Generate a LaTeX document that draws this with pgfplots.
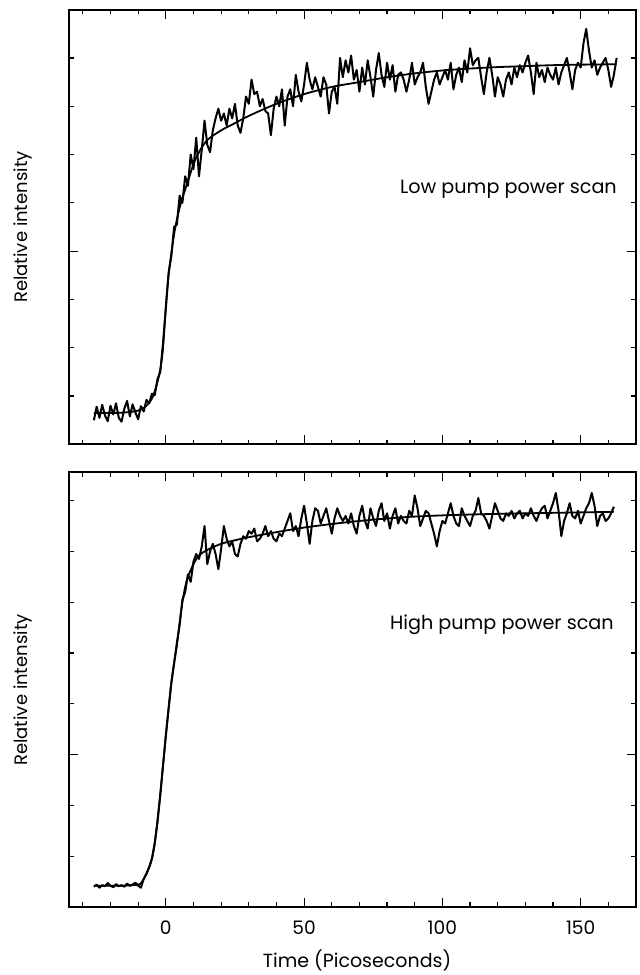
\documentclass[border=0pt]{standalone}
\usepackage{fontspec}
\setmainfont{Poppins}
\usepackage{pgfplots}
\pgfplotsset{compat=1.18}
\begin{document}
\begin{tikzpicture}
\path[use as bounding box] (-34.5pt,-34pt) rectangle (285.5pt,453.5pt);
\pgfplotsset{
 panel/.style={
  scale only axis, width=283.5pt, height=217.4pt,
  xmin=-35, xmax=170,
  xtick={0,50,100,150},
  minor xtick={-30,-20,-10,10,20,30,40,60,70,80,90,110,120,130,140,160},
  tick align=inside, tick pos=both,
  major tick length=4.5pt, minor tick length=2.3pt,
  every tick/.style={black, line width=0.6pt},
  axis line style={line width=1pt},
  yticklabels={},
  /pgf/number format/assume math mode=true,
  tick label style={font=\fontsize{9.3}{10}\selectfont},
  xticklabel style={yshift=-3.5pt},
 },
 data/.style={black, line width=1pt, line join=round},
 fit/.style={black, line width=0.9pt, smooth},
}
% ---------- top panel ----------
\begin{axis}[panel, at={(0,231.3pt)}, anchor=south west,
  ymin=0, ymax=9, ytick={4}, minor ytick={1,2,3,5,6,7,8}, xticklabels={}]
\addplot[data] coordinates {
(-26,0.50) (-25,0.78) (-24,0.55) (-23,0.82) (-22,0.60) (-21,0.48) (-20,0.80) (-19,0.62) (-18,0.85) (-17,0.55)
(-16,0.47) (-15,0.74) (-14,0.90) (-13,0.58) (-12,0.83) (-11,0.66) (-10,0.52) (-9,0.79) (-8,0.68) (-7,0.92)
(-6,0.85) (-5,1.05) (-4,1.02) (-3,1.35) (-2,1.50) (-1,2.10) (0,2.80) (1,3.55) (2,3.90) (3,4.50)
(4,4.55) (5,5.15) (6,5.00) (7,5.55) (8,5.35) (9,6.00) (10,5.70) (11,6.35) (12,5.55) (13,6.10)
(14,6.70) (15,6.20) (16,6.05) (17,6.50) (18,6.75) (19,6.95) (20,6.70) (21,6.85) (22,6.60) (23,6.95)
(24,6.75) (25,7.05) (26,6.60) (27,6.45) (28,6.75) (29,7.20) (30,7.05) (31,7.55) (32,7.25) (33,7.30)
(34,7.00) (35,7.15) (36,6.90) (37,6.85) (38,6.40) (39,6.95) (40,7.20) (41,7.00) (42,7.35) (43,6.60)
(44,7.20) (45,7.35) (46,7.00) (47,7.65) (48,7.30) (49,7.10) (50,7.45) (51,7.90) (52,7.55) (53,7.35)
(54,7.60) (55,7.40) (56,7.20) (57,7.60) (58,7.45) (59,6.85) (60,7.30) (61,7.40) (62,7.05) (63,8.00)
(64,7.60) (65,7.95) (66,7.70) (67,8.05) (68,7.55) (69,7.75) (70,7.30) (71,7.80) (72,7.45) (73,7.95)
(74,7.60) (75,7.20) (76,7.75) (77,8.10) (78,7.65) (79,7.40) (80,7.90) (81,7.55) (82,7.85) (83,7.30)
(84,7.65) (85,7.70) (86,7.55) (87,7.30) (88,7.55) (89,7.90) (90,7.45) (91,7.60) (92,7.70) (93,7.90)
(94,7.40) (95,7.05) (96,7.30) (97,7.55) (98,7.70) (99,7.45) (100,7.60) (101,7.75) (102,7.55) (103,7.90)
(104,7.35) (105,7.65) (106,7.80) (107,7.50) (108,7.95) (109,7.70) (110,8.20) (111,7.85) (112,7.95) (113,8.00)
(114,7.60) (115,7.25) (116,7.70) (117,8.00) (118,7.65) (119,7.20) (120,7.60) (121,7.45) (122,7.20) (123,7.55)
(124,7.70) (125,7.45) (126,7.80) (127,7.60) (128,7.85) (129,7.70) (130,7.90) (131,8.05) (132,7.70) (133,7.25)
(134,7.90) (135,7.60) (136,7.75) (137,7.50) (138,7.80) (139,7.65) (140,7.55) (141,7.80) (142,7.45) (143,7.70)
(144,7.85) (145,8.00) (146,7.70) (147,7.35) (148,7.75) (149,7.90) (150,7.80) (151,8.30) (152,8.60) (153,8.15)
(154,7.80) (155,7.95) (156,7.65) (157,7.80) (158,7.90) (159,8.00) (160,7.75) (161,7.40) (162,7.65) (163,8.00)
};
\addplot[fit] coordinates {
(-26,0.65) (-20,0.65) (-15,0.66) (-10,0.70) (-7,0.80) (-5,0.95) (-4,1.10) (-3,1.30) (-2,1.55) (-1,2.00)
(0,2.85) (1,3.50) (2,3.95) (3,4.35) (4,4.65) (5,4.90) (6,5.10) (8,5.45) (10,5.80) (12,6.05)
(15,6.30) (20,6.50) (25,6.65) (30,6.80) (40,7.05) (50,7.25) (60,7.40) (70,7.50) (80,7.60) (90,7.68)
(100,7.74) (110,7.78) (120,7.81) (130,7.83) (140,7.85) (150,7.86) (163,7.87)
};
\node[anchor=east, font=\fontsize{9.6}{12}\selectfont] at (axis cs:165.6,5.27) {Low pump power scan};
\end{axis}
% ---------- bottom panel ----------
\begin{axis}[panel, at={(0,0)}, anchor=south west,
  ymin=0, ymax=8.56, ytick={3}, minor ytick={1,2,4,5,6,7,8}]
\addplot[data] coordinates {
(-26,0.40) (-25,0.44) (-24,0.38) (-23,0.43) (-22,0.41) (-21,0.47) (-20,0.42) (-19,0.39) (-18,0.45) (-17,0.41)
(-16,0.43) (-15,0.40) (-14,0.46) (-13,0.42) (-12,0.44) (-11,0.48) (-10,0.42) (-9,0.38) (-8,0.55) (-7,0.66)
(-6,0.79) (-5,0.96) (-4,1.26) (-3,1.68) (-2,2.22) (-1,2.78) (0,3.38) (1,3.90) (2,4.42) (3,4.80)
(4,5.20) (5,5.55) (6,6.05) (7,6.20) (8,6.55) (9,6.40) (10,6.80) (11,6.95) (12,6.85) (13,7.10)
(14,7.50) (15,6.75) (16,7.00) (17,7.15) (18,6.95) (19,6.65) (20,7.05) (21,7.50) (22,7.25) (23,7.10)
(24,7.20) (25,6.95) (26,6.90) (27,7.15) (28,7.30) (29,7.25) (30,7.40) (31,7.35) (32,7.45) (33,7.20)
(34,7.25) (35,7.35) (36,7.50) (37,7.30) (38,7.40) (39,7.25) (40,7.20) (41,7.35) (42,7.30) (43,7.45)
(44,7.60) (45,7.75) (46,7.40) (47,7.50) (48,7.30) (49,7.65) (50,7.90) (51,7.55) (52,7.15) (53,7.60)
(54,7.85) (55,7.80) (56,7.55) (57,7.70) (58,7.85) (59,7.60) (60,7.35) (61,7.65) (62,7.85) (63,7.70)
(64,7.60) (65,7.70) (66,7.55) (67,7.75) (68,7.50) (69,7.35) (70,7.70) (71,7.90) (72,7.60) (73,7.45)
(74,7.85) (75,7.65) (76,7.50) (77,7.80) (78,7.95) (79,7.60) (80,7.75) (81,7.45) (82,7.70) (83,7.85)
(84,7.55) (85,7.70) (86,7.60) (87,7.55) (88,7.80) (89,7.70) (90,8.10) (91,7.85) (92,7.50) (93,7.65)
(94,7.80) (95,7.75) (96,7.55) (97,7.35) (98,7.10) (99,7.40) (100,7.60) (101,7.55) (102,7.75) (103,7.95)
(104,7.70) (105,7.55) (106,7.50) (107,7.85) (108,7.70) (109,7.60) (110,7.50) (111,7.70) (112,7.80) (113,8.05)
(114,7.75) (115,7.70) (116,7.60) (117,7.45) (118,7.70) (119,7.95) (120,7.80) (121,7.65) (122,7.60) (123,7.75)
(124,7.70) (125,7.80) (126,7.65) (127,7.75) (128,7.80) (129,7.65) (130,7.75) (131,7.70) (132,7.85) (133,7.70)
(134,7.60) (135,7.75) (136,7.85) (137,7.90) (138,7.65) (139,7.80) (140,7.95) (141,8.15) (142,7.80) (143,7.30)
(144,7.60) (145,7.75) (146,7.95) (147,7.70) (148,7.65) (149,7.80) (150,7.55) (151,7.70) (152,7.85) (153,7.95)
(154,8.15) (155,7.90) (156,7.50) (157,7.70) (158,7.75) (159,7.60) (160,7.65) (161,7.75) (162,7.88)
};
\addplot[fit] coordinates {
(-26,0.42) (-15,0.42) (-10,0.44) (-9,0.47) (-8,0.55) (-7,0.65) (-6,0.78) (-5,0.95) (-4,1.25) (-3,1.70)
(-2,2.20) (-1,2.80) (0,3.35) (1,3.90) (2,4.40) (3,4.80) (4,5.15) (5,5.60) (6,6.00) (7,6.30)
(8,6.50) (10,6.75) (12,6.92) (15,7.03) (20,7.15) (25,7.22) (30,7.28) (40,7.38) (50,7.47) (60,7.54)
(70,7.60) (85,7.67) (100,7.71) (120,7.74) (140,7.76) (162,7.78)
};
\node[anchor=east, font=\fontsize{9.6}{12}\selectfont] at (axis cs:164.5,5.55) {High pump power scan};
\end{axis}
\node[rotate=90, font=\fontsize{9}{10}\selectfont] at (-23pt,340pt) {Relative intensity};
\node[rotate=90, font=\fontsize{9}{10}\selectfont] at (-23pt,108.5pt) {Relative intensity};
\node[font=\fontsize{9.5}{11}\selectfont] at (144pt,-26.5pt) {Time (Picoseconds)};
\end{tikzpicture}
\end{document}
